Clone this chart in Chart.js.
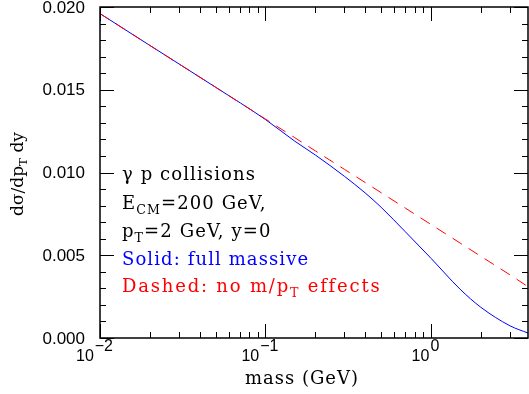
<!DOCTYPE html>
<html>
<head>
<meta charset="utf-8">
<script src="https://cdn.jsdelivr.net/npm/chart.js@4"></script>
<style>
  html, body { margin: 0; padding: 0; background: #fff; }
  canvas { display: block; }
</style>
</head>
<body>
<canvas id="plot" width="529" height="394"></canvas>
<script>
// masses in GeV
const masses = [0.01, 0.02, 0.05, 0.1, 0.15, 0.2, 0.3, 0.4, 0.5, 0.7, 1, 1.5, 2, 3, 3.86];
// solid: full massive
const massive = [0.0196, 0.01768, 0.01515, 0.01320, 0.01190, 0.01106, 0.00977, 0.00877, 0.00790, 0.00642, 0.00482, 0.00295, 0.00186, 0.00074, 0.00030];
// dashed: no m/pT effects
const noMass = [0.0196, 0.01768, 0.01515, 0.01323, 0.01211, 0.01131, 0.01019, 0.00940, 0.00878, 0.00785, 0.00686, 0.00574, 0.00494, 0.00382, 0.00310];

const yTicks = ['0.000', '0.005', '0.010', '0.015', '0.020'];
const xDecades = [-2, -1, 0];

const labelFont = '"DejaVu Serif", serif';
const tickFont = '"Liberation Sans", Arial, sans-serif';

// draw text pieces, some as subscripts
function drawPieces(ctx, x, y, pieces, size, color) {
    ctx.fillStyle = color;
    ctx.textBaseline = 'alphabetic';
    ctx.textAlign = 'left';
    let cx = x;
    pieces.forEach(p => {
        const s = p.sub ? size * 0.7 : size;
        ctx.font = s + 'px ' + labelFont;
        ctx.fillText(p.t, cx, y + (p.sub ? size * 0.25 : 0));
        cx += ctx.measureText(p.t).width;
    });
}

function piecesWidth(ctx, pieces, size) {
    let w = 0;
    pieces.forEach(p => {
        ctx.font = (p.sub ? size * 0.7 : size) + 'px ' + labelFont;
        w += ctx.measureText(p.t).width;
    });
    return w;
}

const framePlugin = {
    id: 'frame',
    afterDraw(chart) {
        const ctx = chart.ctx;
        const a = chart.chartArea;
        const xs = chart.scales.x;
        const ys = chart.scales.y;
        ctx.save();

        // frame
        ctx.strokeStyle = '#000';
        ctx.lineWidth = 1.5;
        ctx.strokeRect(a.left, a.top, a.right - a.left, a.bottom - a.top);

        ctx.lineWidth = 1;
        ctx.beginPath();
        // y ticks every 0.001, major every 0.005
        for (let i = 0; i <= 20; i++) {
            const py = Math.round(ys.getPixelForValue(i * 0.001)) + 0.5;
            const len = i % 5 === 0 ? 14 : 6;
            ctx.moveTo(a.left, py); ctx.lineTo(a.left + len, py);
            ctx.moveTo(a.right, py); ctx.lineTo(a.right - len, py);
        }
        // x ticks
        for (let d = -2; d <= 0; d++) {
            for (let k = 1; k <= 9; k++) {
                const v = k * Math.pow(10, d);
                if (v > xs.max) continue;
                const px = Math.round(xs.getPixelForValue(v)) + 0.5;
                const len = k === 1 ? 14 : 6;
                ctx.moveTo(px, a.bottom); ctx.lineTo(px, a.bottom - len);
                ctx.moveTo(px, a.top); ctx.lineTo(px, a.top + len);
            }
        }
        ctx.stroke();

        // y tick labels
        ctx.fillStyle = '#000';
        ctx.font = '17px ' + tickFont;
        ctx.textAlign = 'right';
        ctx.textBaseline = 'middle';
        yTicks.forEach(t => {
            ctx.fillText(t, a.left - 15, ys.getPixelForValue(parseFloat(t)) + 1);
        });

        // x tick labels 10^n
        xDecades.forEach(e => {
            const px = xs.getPixelForValue(Math.pow(10, e));
            const exp = e < 0 ? '\u2212' + (-e) : String(e);
            ctx.font = '16px ' + tickFont;
            const wb = ctx.measureText('10').width;
            const we = ctx.measureText(exp).width;
            const x0 = px - 6 - (wb + we) / 2;
            ctx.textAlign = 'left';
            ctx.textBaseline = 'alphabetic';
            ctx.fillText('10', x0, a.bottom + 23);
            ctx.fillText(exp, x0 + wb + 1, a.bottom + 13);
        });

        // axis titles
        ctx.letterSpacing = '1px';
        ctx.font = '18px ' + labelFont;
        ctx.textAlign = 'center';
        ctx.fillText('mass (GeV)', 302, 384);

        ctx.save();
        ctx.letterSpacing = '0px';
        ctx.translate(23, 174);
        ctx.rotate(-Math.PI / 2);
        const yl = [{ t: 'd\u03c3/dp' }, { t: 'T', sub: true }, { t: ' dy' }];
        drawPieces(ctx, -piecesWidth(ctx, yl, 17) / 2, 0, yl, 17, '#000');
        ctx.restore();

        // annotation
        ctx.letterSpacing = '1.1px';
        const x0 = 122;
        drawPieces(ctx, x0, 180, [{ t: '\u03b3 p collisions' }], 18, '#000');
        drawPieces(ctx, x0, 209, [{ t: 'E' }, { t: 'CM', sub: true }, { t: '=200 GeV,' }], 18, '#000');
        drawPieces(ctx, x0, 237, [{ t: 'p' }, { t: 'T', sub: true }, { t: '=2 GeV, y=0' }], 18, '#000');
        drawPieces(ctx, x0, 265, [{ t: 'Solid: full massive' }], 18, '#0000ff');
        ctx.letterSpacing = '1.8px';
        drawPieces(ctx, x0, 292, [{ t: 'Dashed: no m/p' }, { t: 'T', sub: true }, { t: ' effects' }], 18, '#ff0000');

        ctx.restore();
    }
};

new Chart(document.getElementById('plot').getContext('2d'), {
    type: 'line',
    data: {
        labels: masses,
        datasets: [{
            label: 'no m/pT effects',
            data: masses.map((m, i) => ({ x: m, y: noMass[i] })),
            borderColor: '#ff0000',
            borderWidth: 1,
            borderDash: [11, 8],
            pointRadius: 0,
            cubicInterpolationMode: 'monotone',
            fill: false
        }, {
            label: 'full massive',
            data: masses.map((m, i) => ({ x: m, y: massive[i] })),
            borderColor: '#0000ff',
            borderWidth: 1,
            pointRadius: 0,
            cubicInterpolationMode: 'monotone',
            fill: false
        }]
    },
    options: {
        responsive: false,
        animation: false,
        layout: { padding: { left: 100, right: 1, top: 7, bottom: 56 } },
        plugins: { legend: { display: false }, tooltip: { enabled: false } },
        scales: {
            x: { type: 'logarithmic', min: 0.01, max: 3.86, display: false },
            y: { type: 'linear', min: 0, max: 0.02, display: false }
        }
    },
    plugins: [framePlugin]
});
</script>
</body>
</html>
